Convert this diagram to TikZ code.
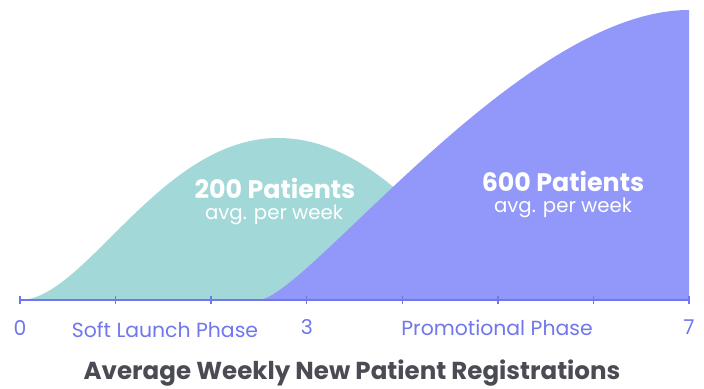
\documentclass[tikz,border=0pt]{standalone}
\usepackage{fontspec}
\setmainfont{Poppins}
\definecolor{tealarea}{HTML}{A2D9D8}
\definecolor{violetarea}{HTML}{9198F9}
\definecolor{axisblue}{HTML}{6F76EE}
\definecolor{titlegray}{HTML}{4A4B53}
\tikzset{
  axisline/.style={draw=axisblue,line width=1pt},
  axislabel/.style={text=axisblue,font=\fontsize{15.3}{17}\selectfont,inner sep=0pt},
  countlabel/.style={text=white,font=\bfseries\fontsize{19}{21}\selectfont,inner sep=0pt},
  avglabel/.style={text=white,font=\fontsize{14.8}{17}\selectfont,inner sep=0pt},
}
\begin{document}
\begin{tikzpicture}[x=0.75pt,y=-0.75pt]
    \useasboundingbox (0,0) rectangle (704,389);
    % areas
    \fill [tealarea] (20,300) .. controls (85,300) and (160,138) .. (278,138)
        .. controls (400,138) and (470,300) .. (540,300) -- cycle;
    \fill [violetarea] (258,300) .. controls (305,300) and (520,10) .. (689,10)
        -- (689,300) -- cycle;
    % axis
    \coordinate (start) at (20,300);
    \coordinate (end) at (689,300);
    \draw [axisline] (start) -- (end);
    \foreach \t in {0,...,7}
    \draw [axisline] ({20+\t*95.57},296)--({20+\t*95.57},304);
    \node [axislabel] (zero) at (20,328) {0};
    \node [axislabel] (three) at (307,327) {3};
    \node [axislabel] (seven) at (689,327) {7};
    \node [axislabel] (soft) at (165,330) {Soft Launch Phase};
    \node [axislabel] (promo) at (497,328) {Promotional Phase};
    % values
    \node [countlabel] (soft count) at (275,188) {200 Patients};
    \node [avglabel] (soft avg) at (274,215) {avg. per week};
    \node [countlabel] (promo count) at (563,181) {600 Patients};
    \node [avglabel] (promo avg) at (563,208) {avg. per week};
    \node [text=titlegray,font=\bfseries\fontsize{18.4}{21}\selectfont,inner sep=0pt] (title) at (352,373) {Average Weekly New Patient Registrations};
\end{tikzpicture}
\end{document}
